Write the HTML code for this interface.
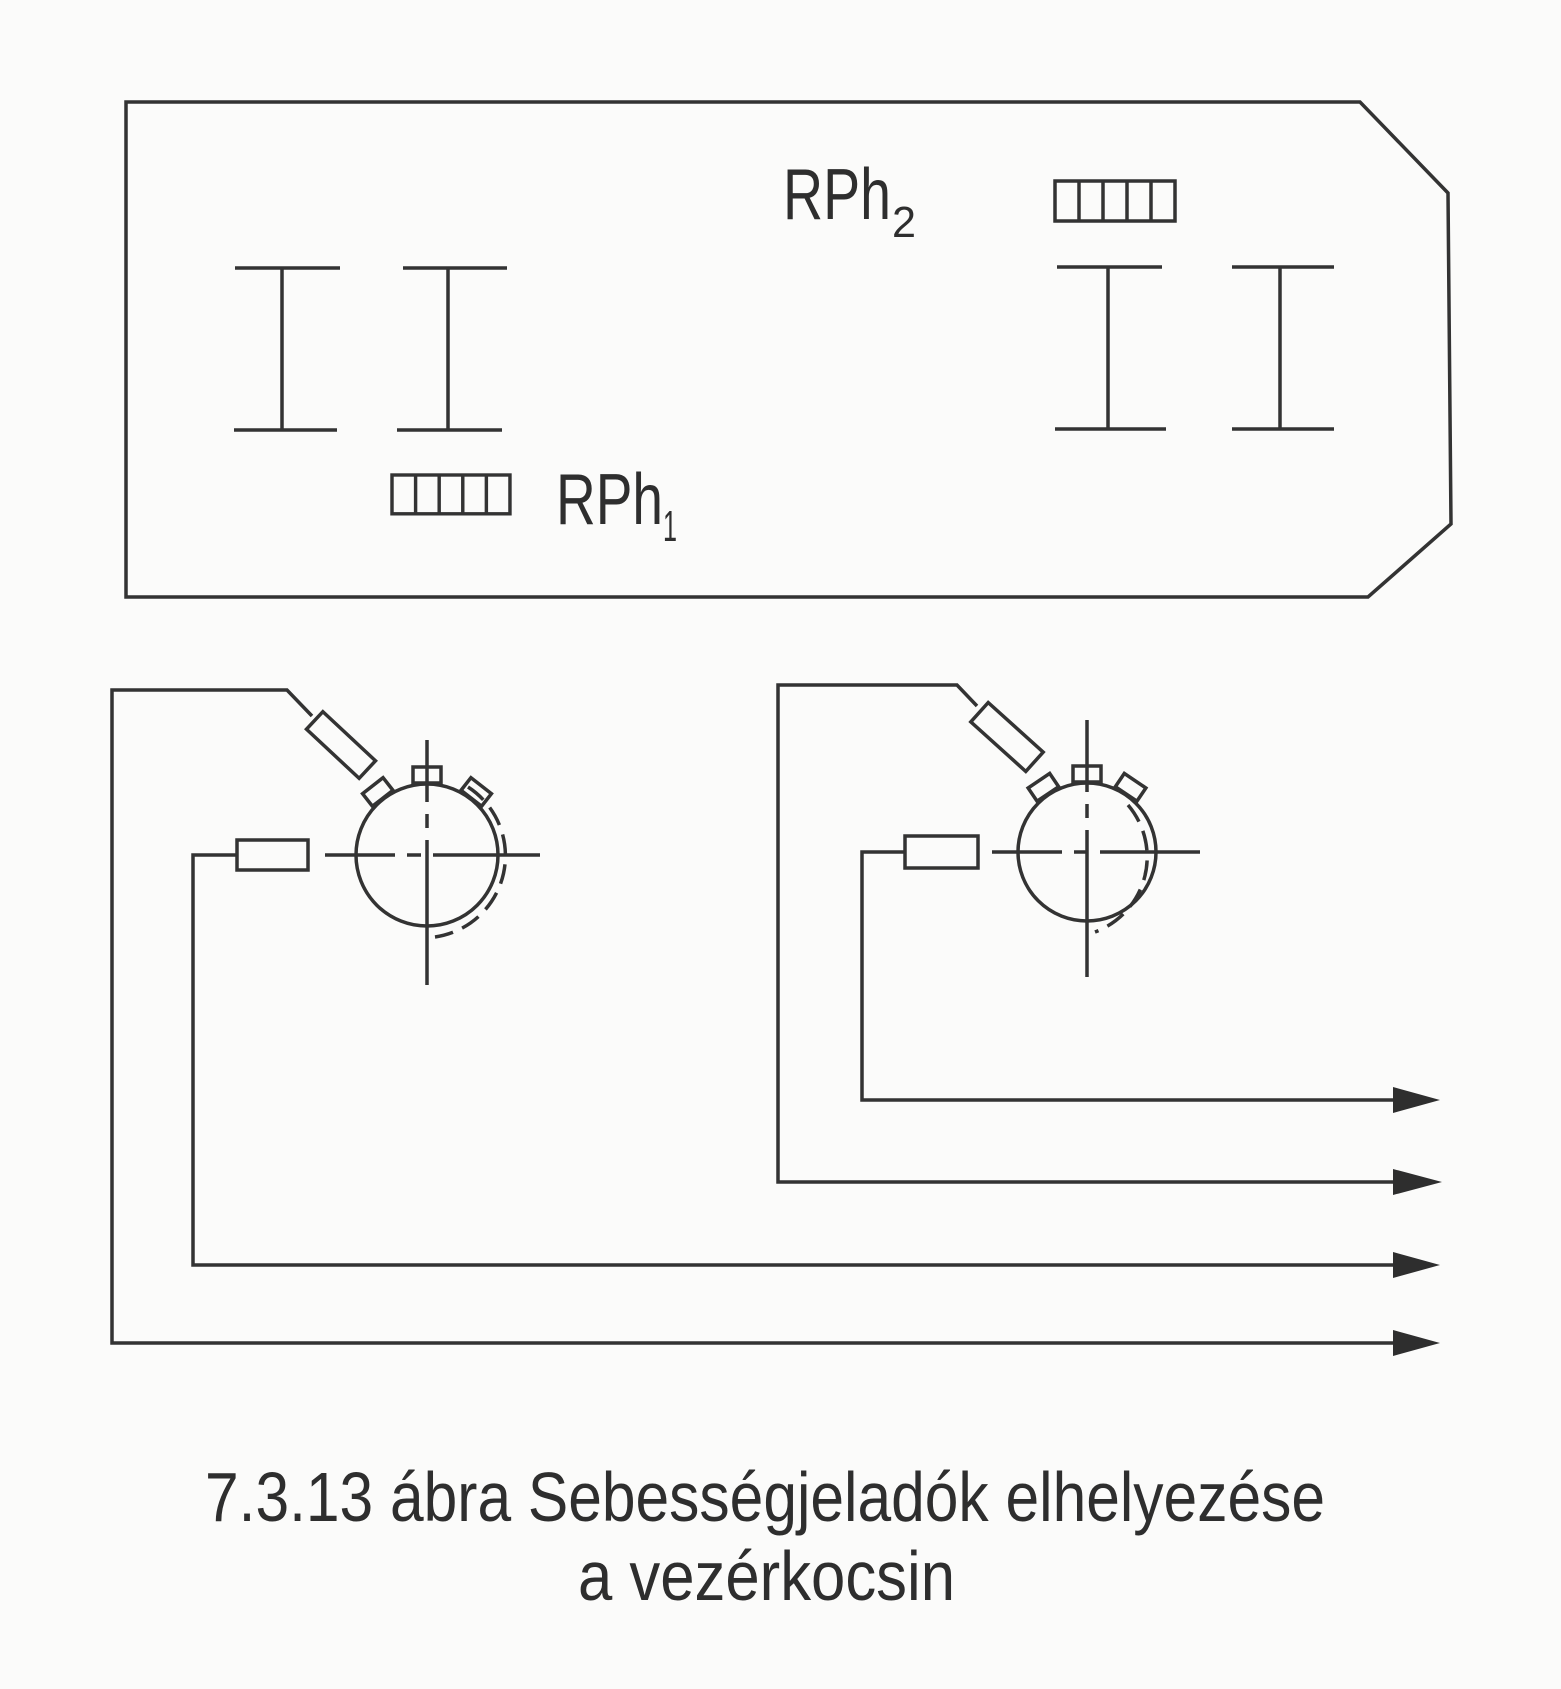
<!DOCTYPE html>
<html><head><meta charset="utf-8"><style>
html,body{margin:0;padding:0;background:#fbfbfa;}
svg{display:block}
text{font-family:"Liberation Sans",sans-serif;fill:#2e2e2e}
</style></head><body>
<svg width="1561" height="1689" viewBox="0 0 1561 1689" xmlns="http://www.w3.org/2000/svg">
<defs>
<marker id="ah" markerWidth="44" markerHeight="28" refX="42" refY="14" orientation="auto" markerUnits="userSpaceOnUse">
<path d="M0,1 L42,14 L0,27 Z" fill="#2e2e2e"/>
</marker>
<g id="hb">
<rect x="0" y="0" width="120" height="40" fill="none"/>
<line x1="24" y1="0" x2="24" y2="40"/><line x1="48" y1="0" x2="48" y2="40"/>
<line x1="72" y1="0" x2="72" y2="40"/><line x1="96" y1="0" x2="96" y2="40"/>
</g>
</defs>
<g fill="none" stroke="#333" stroke-width="3.5" stroke-linejoin="miter">
<!-- outer car body -->
<path d="M126,102 L1360,102 L1448,193 L1451,524 L1368,597 L126,597 Z"/>
<!-- I beams -->
<path d="M235,268 H340 M282,268 V430 M234,430 H337"/>
<path d="M403,268 H507 M448,268 V430 M397,430 H502"/>
<path d="M1057,267 H1162 M1108,267 V429 M1055,429 H1166"/>
<path d="M1232,267 H1334 M1280,267 V429 M1232,429 H1334"/>
<!-- hatched boxes -->
<use href="#hb" x="392" y="475" transform="translate(392,475) scale(0.983,0.97) translate(-392,-475)"/>
<use href="#hb" x="1055" y="181"/>

<!-- left circuit -->
<path d="M1395,1343 H112 V690 H287 L312,716"/>
<g transform="translate(341,745) rotate(43)"><rect x="-36" y="-12" width="72" height="24"/></g>
<path d="M1395,1265 H193 V855 H237"/>
<rect x="237" y="840" width="71" height="30"/>
<circle cx="427" cy="855" r="71"/>
<path d="M325,855 H540" stroke-dasharray="70,12,14,12,200"/>
<path d="M427,740 V985" stroke-dasharray="62,12,14,12,200"/>
<path d="M468,787 A82,82 0 0 1 435,937" stroke-dasharray="20,10"/>
<g transform="translate(427,855)">
<g transform="rotate(-90) translate(80,0)"><rect x="-8" y="-14" width="16" height="28"/></g>
<g transform="rotate(-128) translate(80,0)"><rect x="-8" y="-13" width="16" height="26"/></g>
<g transform="rotate(-52) translate(80,0)"><rect x="-8" y="-13" width="16" height="26"/></g>
</g>

<!-- right circuit -->
<path d="M1395,1182 H778 V685 H957 L977,706"/>
<g transform="translate(1007,737) rotate(42)"><rect x="-37" y="-13" width="74" height="26"/></g>
<path d="M1395,1100 H862 V852 H905"/>
<rect x="905" y="836" width="73" height="32"/>
<circle cx="1087" cy="852" r="69"/>
<path d="M992,852 H1200" stroke-dasharray="70,12,14,12,200"/>
<path d="M1087,720 V977" stroke-dasharray="72,12,14,12,200"/>
<path d="M1128,805 A80,80 0 0 1 1095,932" stroke-dasharray="20,10"/>
<g transform="translate(1087,852)">
<g transform="rotate(-90) translate(78,0)"><rect x="-8" y="-14" width="16" height="28"/></g>
<g transform="rotate(-124) translate(78,0)"><rect x="-8" y="-13" width="16" height="26"/></g>
<g transform="rotate(-56) translate(78,0)"><rect x="-8" y="-13" width="16" height="26"/></g>
</g>
</g>
<!-- arrowheads -->
<g fill="#2e2e2e">
<path d="M1393,1087 L1440,1100 L1393,1113 Z"/>
<path d="M1393,1169 L1442,1182 L1393,1195 Z"/>
<path d="M1393,1252 L1440,1265 L1393,1278 Z"/>
<path d="M1393,1330 L1440,1343 L1393,1356 Z"/>
</g>
<!-- labels -->
<text x="556" y="524" font-size="72" textLength="107" lengthAdjust="spacingAndGlyphs">RPh</text>
<text x="663" y="541" font-size="44" textLength="14" lengthAdjust="spacingAndGlyphs">1</text>
<text x="783" y="219" font-size="72" textLength="108" lengthAdjust="spacingAndGlyphs">RPh</text>
<text x="892" y="237" font-size="44" textLength="24" lengthAdjust="spacingAndGlyphs">2</text>
<text x="205" y="1521" font-size="70" textLength="1120" lengthAdjust="spacingAndGlyphs">7.3.13 ábra Sebességjeladók elhelyezése</text>
<text x="578" y="1600" font-size="70" textLength="377" lengthAdjust="spacingAndGlyphs">a vezérkocsin</text>
</svg>
</body></html>
